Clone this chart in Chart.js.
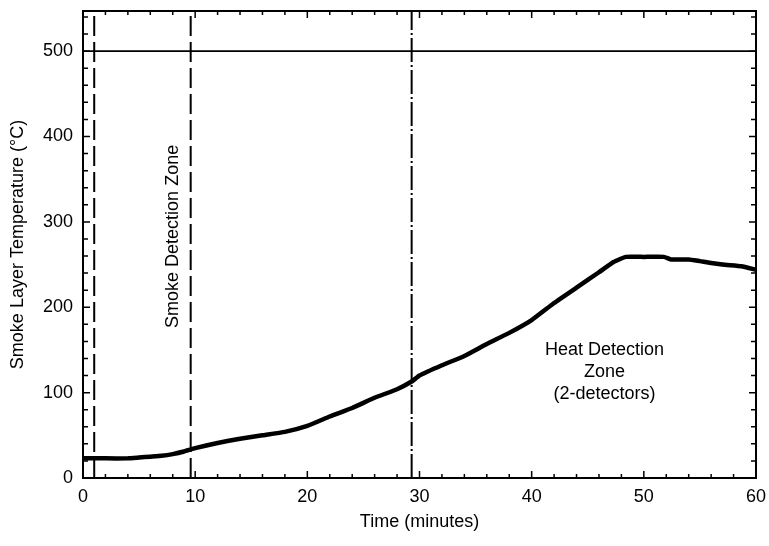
<!DOCTYPE html>
<html>
<head>
<meta charset="utf-8">
<script src="https://cdn.jsdelivr.net/npm/chart.js@4"></script>
<style>
  html, body { margin: 0; padding: 0; background: #fff; }
  #wrap { width: 769px; height: 546px; }
</style>
</head>
<body>
<div id="wrap"><canvas id="c" width="769" height="546"></canvas></div>
<script>
// ---- data ----
const minutes = [0, 2, 4, 5, 6, 7, 8, 9, 10, 12, 14, 16, 18, 20, 22, 24, 26, 28, 29.3, 30, 32, 34, 36, 38, 40, 42, 44, 46, 47.3, 48.4, 50, 51.8, 52.4, 54, 55, 57, 58.7, 60];
const temperature = [23, 23, 23, 24, 25, 26, 28, 31, 35, 41, 46, 50, 54, 61, 72, 82, 94, 104, 113, 120, 132, 143, 157, 170, 185, 205, 223, 241, 253, 259, 259, 259, 256, 256, 254, 250, 248, 244];
const smokeZoneLines = [1.0, 9.6];      // long-dash vertical lines (min)
const heatZoneLine = [29.3];            // dash-dot vertical line (min)
const limitTemperature = [500];         // horizontal solid line (°C)
const xTickValues = [0, 10, 20, 30, 40, 50, 60];
const yTickValues = [0, 100, 200, 300, 400, 500];
const xRange = [0, 60];
const yRange = [0, 547];

const FONT = "'Liberation Sans', Arial, Helvetica, sans-serif";
Chart.defaults.font.family = FONT;
Chart.defaults.color = '#000';

const curve = minutes.map((m, i) => ({ x: m, y: temperature[i] }));

const datasets = [
  { data: curve, borderColor: '#000', borderWidth: 4.5, pointRadius: 0, tension: 0.12, borderCapStyle: 'round', borderJoinStyle: 'round' }
];
smokeZoneLines.forEach(t => datasets.push({
  data: [{ x: t, y: yRange[0] }, { x: t, y: yRange[1] }],
  borderColor: '#000', borderWidth: 2, pointRadius: 0, borderDash: [20, 6]
}));
heatZoneLine.forEach(t => datasets.push({
  data: [{ x: t, y: yRange[0] }, { x: t, y: yRange[1] }],
  borderColor: '#000', borderWidth: 2, pointRadius: 0, borderDash: [24, 3, 2, 3]
}));
limitTemperature.forEach(v => datasets.push({
  data: [{ x: xRange[0], y: v }, { x: xRange[1], y: v }],
  borderColor: '#000', borderWidth: 1.6, pointRadius: 0
}));

const framePlugin = {
  id: 'frame',
  afterDatasetsDraw(chart) {
    const { ctx, chartArea: a, scales: { x, y } } = chart;
    ctx.save();
    ctx.strokeStyle = '#000';
    ctx.lineWidth = 1.5;
    ctx.beginPath();
    for (let t = xRange[0]; t <= xRange[1]; t += 2) {
      const px = x.getPixelForValue(t);
      const len = (t % 10 === 0) ? 7 : 4;
      ctx.moveTo(px, a.bottom); ctx.lineTo(px, a.bottom - len);
      ctx.moveTo(px, a.top); ctx.lineTo(px, a.top + len);
    }
    for (let v = 0; v <= 540; v += 20) {
      const py = y.getPixelForValue(v);
      const len = (v % 100 === 0) ? 7 : 5;
      ctx.moveTo(a.left, py); ctx.lineTo(a.left + len, py);
      ctx.moveTo(a.right, py); ctx.lineTo(a.right - len, py);
    }
    ctx.stroke();
    ctx.lineWidth = 2;
    ctx.strokeRect(a.left, a.top, a.right - a.left, a.bottom - a.top);
    ctx.fillStyle = '#000';
    ctx.font = '18px ' + FONT;
    ctx.textAlign = 'center';
    ctx.textBaseline = 'middle';
    const hx = x.getPixelForValue(46.5);
    const hy = y.getPixelForValue(150);
    ctx.fillText('Heat Detection', hx, hy);
    ctx.fillText('Zone', hx, hy + 22);
    ctx.fillText('(2-detectors)', hx, hy + 44);
    ctx.save();
    ctx.translate(x.getPixelForValue(8.0), y.getPixelForValue(283));
    ctx.rotate(-Math.PI / 2);
    ctx.fillText('Smoke Detection Zone', 0, 0);
    ctx.restore();
    ctx.restore();
  }
};

new Chart(document.getElementById('c'), {
  type: 'line',
  data: { datasets },
  options: {
    responsive: false,
    animation: false,
    events: [],
    layout: { padding: { top: 11, right: 13, left: 0, bottom: 0 } },
    plugins: { legend: { display: false }, tooltip: { enabled: false } },
    scales: {
      x: {
        type: 'linear', min: xRange[0], max: xRange[1],
        afterBuildTicks: s => { s.ticks = xTickValues.map(v => ({ value: v })); },
        afterFit: s => { s.height = 68; s.paddingLeft = 0; s.paddingRight = 0; },
        grid: { display: false, drawTicks: false },
        border: { display: false },
        ticks: { font: { size: 18 }, color: '#000', padding: 8, maxRotation: 0 },
        title: { display: true, text: 'Time (minutes)', font: { size: 18 }, color: '#000', padding: { top: 0, bottom: 13 } }
      },
      y: {
        type: 'linear', min: yRange[0], max: yRange[1],
        afterBuildTicks: s => { s.ticks = yTickValues.map(v => ({ value: v })); },
        afterFit: s => { s.width = 83; s.paddingTop = 0; s.paddingBottom = 0; },
        grid: { display: false, drawTicks: false },
        border: { display: false },
        ticks: { font: { size: 18 }, color: '#000', padding: 10 },
        title: { display: true, text: 'Smoke Layer Temperature (°C)', font: { size: 18 }, color: '#000', padding: { top: 7, bottom: 0 } }
      }
    }
  },
  plugins: [framePlugin]
});
</script>
</body>
</html>
